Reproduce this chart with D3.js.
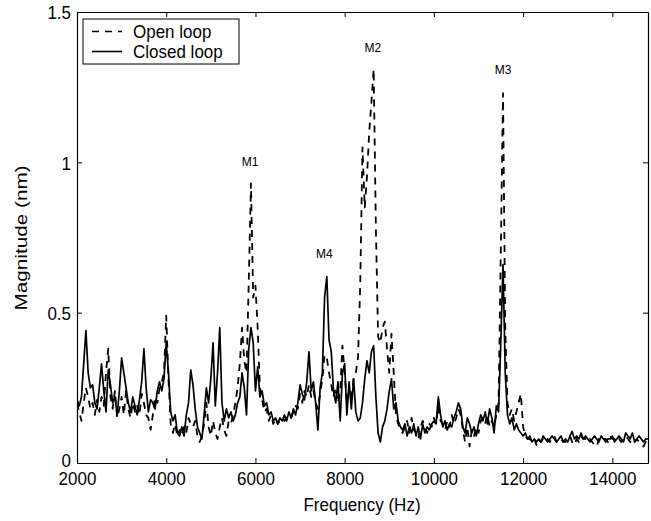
<!DOCTYPE html>
<html><head><meta charset="utf-8">
<script src="https://cdn.jsdelivr.net/npm/d3@7"></script>
<style>
body{margin:0;background:#fff}
svg{display:block}
text{font-family:'Liberation Sans',Arial,Helvetica,sans-serif;fill:#000}
</style>
</head><body>
<svg id="c" width="651" height="521"></svg>
<script>
const freq=[
2000,2050,2100,2150,2200,2250,2300,2350,2400,2450,
2500,2550,2600,2650,2700,2750,2800,2850,2900,2950,
3000,3050,3100,3150,3200,3250,3300,3350,3400,3450,
3500,3550,3600,3650,3700,3750,3800,3850,3900,3950,
4000,4050,4100,4150,4200,4250,4300,4350,4400,4450,
4500,4550,4600,4650,4700,4750,4800,4850,4900,4950,
5000,5050,5100,5150,5200,5250,5300,5350,5400,5450,
5500,5550,5600,5650,5700,5750,5800,5850,5900,5950,
6000,6050,6100,6150,6200,6250,6300,6350,6400,6450,
6500,6550,6600,6650,6700,6750,6800,6850,6900,6950,
7000,7050,7100,7150,7200,7250,7300,7350,7400,7450,
7500,7550,7600,7650,7700,7750,7800,7850,7900,7950,
8000,8050,8100,8150,8200,8250,8300,8350,8400,8450,
8500,8550,8600,8650,8700,8750,8800,8850,8900,8950,
9000,9050,9100,9150,9200,9250,9300,9350,9400,9450,
9500,9550,9600,9650,9700,9750,9800,9850,9900,9950,
10000,10050,10100,10150,10200,10250,10300,10350,10400,10450,
10500,10550,10600,10650,10700,10750,10800,10850,10900,10950,
11000,11050,11100,11150,11200,11250,11300,11350,11400,11450,
11500,11550,11600,11650,11700,11750,11800,11850,11900,11950,
12000,12050,12100,12150,12200,12250,12300,12350,12400,12450,
12500,12550,12600,12650,12700,12750,12800,12850,12900,12950,
13000,13050,13100,13150,13200,13250,13300,13350,13400,13450,
13500,13550,13600,13650,13700,13750,13800,13850,13900,13950,
14000,14050,14100,14150,14200,14250,14300,14350,14400,14450,
14500,14550,14600,14650,14700,14750,14800];

const closedLoop=[
0.21,0.19,0.22,0.33,0.44,0.30,0.25,0.26,0.20,0.18,
0.25,0.33,0.24,0.17,0.31,0.26,0.20,0.22,0.16,0.24,
0.35,0.30,0.25,0.20,0.17,0.22,0.19,0.16,0.21,0.27,
0.38,0.25,0.17,0.21,0.20,0.18,0.24,0.27,0.24,0.28,
0.40,0.30,0.17,0.14,0.16,0.10,0.09,0.12,0.09,0.16,
0.20,0.31,0.26,0.18,0.12,0.10,0.08,0.16,0.25,0.20,
0.28,0.40,0.19,0.30,0.45,0.20,0.14,0.18,0.15,0.17,
0.14,0.16,0.20,0.22,0.30,0.25,0.16,0.38,0.45,0.40,
0.24,0.32,0.22,0.24,0.19,0.20,0.16,0.17,0.14,0.15,
0.13,0.15,0.14,0.16,0.14,0.17,0.15,0.18,0.16,0.20,
0.26,0.23,0.21,0.27,0.37,0.24,0.27,0.20,0.11,0.25,
0.30,0.55,0.62,0.41,0.37,0.24,0.20,0.27,0.14,0.30,
0.33,0.16,0.27,0.18,0.28,0.17,0.14,0.15,0.20,0.28,
0.34,0.30,0.37,0.39,0.22,0.10,0.07,0.12,0.14,0.18,
0.24,0.28,0.18,0.20,0.14,0.12,0.11,0.13,0.09,0.12,
0.10,0.13,0.09,0.12,0.08,0.13,0.10,0.12,0.11,0.13,
0.14,0.13,0.22,0.16,0.12,0.14,0.11,0.13,0.12,0.15,
0.17,0.20,0.18,0.12,0.10,0.15,0.13,0.10,0.12,0.09,
0.13,0.16,0.14,0.17,0.13,0.18,0.15,0.10,0.19,0.17,
0.40,0.66,0.30,0.16,0.13,0.15,0.11,0.13,0.11,0.10,
0.09,0.10,0.08,0.09,0.07,0.08,0.07,0.08,0.07,0.09,
0.08,0.07,0.08,0.09,0.08,0.07,0.08,0.09,0.07,0.08,
0.07,0.09,0.105,0.08,0.09,0.08,0.10,0.08,0.09,0.08,
0.07,0.08,0.09,0.08,0.07,0.09,0.08,0.07,0.08,0.08,
0.09,0.07,0.08,0.09,0.08,0.07,0.10,0.09,0.08,0.10,
0.07,0.08,0.09,0.08,0.07,0.08,0.08];

const openLoop=[
0.20,0.17,0.14,0.20,0.25,0.22,0.18,0.20,0.16,0.21,
0.17,0.22,0.19,0.30,0.38,0.22,0.18,0.24,0.15,0.18,
0.22,0.16,0.24,0.18,0.15,0.20,0.17,0.19,0.16,0.23,
0.20,0.16,0.15,0.11,0.16,0.22,0.20,0.25,0.27,0.30,
0.49,0.28,0.13,0.10,0.13,0.09,0.11,0.09,0.12,0.10,
0.15,0.13,0.12,0.14,0.09,0.07,0.09,0.13,0.20,0.12,
0.09,0.14,0.10,0.08,0.12,0.15,0.11,0.09,0.14,0.13,
0.16,0.20,0.25,0.33,0.45,0.34,0.30,0.60,0.93,0.55,
0.59,0.45,0.25,0.21,0.17,0.18,0.14,0.16,0.13,0.15,
0.13,0.14,0.15,0.14,0.15,0.16,0.15,0.17,0.19,0.18,
0.23,0.20,0.24,0.22,0.26,0.22,0.24,0.20,0.18,0.23,
0.28,0.36,0.35,0.30,0.26,0.22,0.25,0.20,0.24,0.39,
0.30,0.20,0.24,0.22,0.28,0.30,0.35,0.60,1.05,0.85,
0.95,1.10,1.20,1.31,0.78,0.42,0.40,0.45,0.47,0.38,
0.30,0.43,0.30,0.16,0.13,0.11,0.10,0.12,0.14,0.10,
0.15,0.11,0.10,0.08,0.12,0.14,0.12,0.10,0.13,0.12,
0.15,0.13,0.19,0.14,0.13,0.11,0.14,0.12,0.16,0.13,
0.15,0.18,0.16,0.11,0.07,0.12,0.055,0.11,0.09,0.12,
0.10,0.14,0.15,0.13,0.16,0.12,0.14,0.12,0.16,0.20,
0.70,1.23,0.45,0.20,0.16,0.18,0.14,0.17,0.20,0.23,
0.12,0.09,0.08,0.08,0.07,0.08,0.06,0.08,0.07,0.08,
0.07,0.08,0.07,0.08,0.09,0.07,0.08,0.08,0.07,0.07,
0.08,0.09,0.07,0.06,0.08,0.07,0.09,0.08,0.08,0.07,
0.08,0.07,0.06,0.055,0.08,0.07,0.08,0.08,0.07,0.09,
0.08,0.08,0.07,0.08,0.07,0.08,0.09,0.08,0.07,0.08,
0.07,0.08,0.07,0.06,0.055,0.07,0.07];

const xTicks=[2000,4000,6000,8000,10000,12000,14000];
const yTicks=[0,0.5,1,1.5];
const yTickLabels=['0','0.5','1','1.5'];
const seriesNames=['Open loop','Closed loop'];
const modeNames=['M1','M2','M3','M4'];
const modeFreqs=[5878,8631,11550,7544];
const modeMags=[0.988,1.366,1.293,0.682];
const xTitle='Frequency (Hz)';
const yTitle='Magnitude (nm)';

const S=1.1;       // vertical stretch of the scanned lettering
const FS=17;
const svg=d3.select('#c');
const x=d3.scaleLinear().domain([2000,14800]).range([77,648]);
const y=d3.scaleLinear().domain([0,1.5]).range([463,12]);

svg.append('rect').attr('width',651).attr('height',521).attr('fill','#fff');

svg.append('clipPath').attr('id','clip').append('rect')
  .attr('x',x.range()[0]).attr('y',y.range()[1])
  .attr('width',x.range()[1]-x.range()[0]).attr('height',y.range()[0]-y.range()[1]);

function styleAxis(g){
  g.attr('font-size',null).attr('font-family',null);
  g.selectAll('path.domain').attr('stroke','#000').attr('stroke-width',1.2);
  g.selectAll('.tick line').attr('stroke','#000').attr('stroke-width',1);
}

const gb=svg.append('g').attr('transform',`translate(0,${y(0)})`)
  .call(d3.axisBottom(x).tickValues(xTicks).tickFormat(d3.format('d')).tickSizeInner(-5).tickSizeOuter(0));
styleAxis(gb);
gb.selectAll('text').attr('y',0).attr('dy',null).style('font-size',FS+'px')
  .attr('transform',`translate(0,${8.5+FS*0.716*S}) scale(1,${S})`);

const gt=svg.append('g').attr('transform',`translate(0,${y(1.5)})`)
  .call(d3.axisTop(x).tickValues(xTicks).tickFormat('').tickSizeInner(-5).tickSizeOuter(0));
styleAxis(gt);

const gl=svg.append('g').attr('transform',`translate(${x(2000)},0)`)
  .call(d3.axisLeft(y).tickValues(yTicks).tickFormat((d,i)=>yTickLabels[i]).tickSizeInner(-5).tickSizeOuter(0));
styleAxis(gl);
gl.selectAll('text').attr('x',0).attr('dy',null).style('font-size',FS+'px')
  .attr('transform',(d)=>`translate(-6,${FS*0.716*S/2 - (d===0?3.5:0)}) scale(1,${S})`);

const gr=svg.append('g').attr('transform',`translate(${x(14800)},0)`)
  .call(d3.axisRight(y).tickValues(yTicks).tickFormat('').tickSizeInner(-5).tickSizeOuter(0));
styleAxis(gr);

const pts=freq.map((f,i)=>({f,o:openLoop[i],c:closedLoop[i]}));
const plot=svg.append('g').attr('clip-path','url(#clip)');
plot.append('path').datum(pts)
  .attr('d',d3.line().x(d=>x(d.f)).y(d=>y(d.o)))
  .attr('fill','none').attr('stroke','#000').attr('stroke-width',1.8)
  .attr('stroke-dasharray','7,6').attr('stroke-linejoin','round');
plot.append('path').datum(pts)
  .attr('d',d3.line().x(d=>x(d.f)).y(d=>y(d.c)))
  .attr('fill','none').attr('stroke','#000').attr('stroke-width',1.7)
  .attr('stroke-linejoin','round');

// mode labels
modeNames.forEach((n,i)=>{
  svg.append('text').attr('text-anchor','middle')
    .attr('transform',`translate(${x(modeFreqs[i])},${y(modeMags[i])}) scale(1,${S})`)
    .style('font-size','12px').text(n);
});

// legend
const lg=svg.append('g');
lg.append('rect').attr('x',83).attr('y',19).attr('width',156).attr('height',45)
  .attr('fill','#fff').attr('stroke','#000').attr('stroke-width',1);
const rowsY=[31.5,51.5];
seriesNames.forEach((n,i)=>{
  lg.append('line').attr('x1',92).attr('x2',122).attr('y1',rowsY[i]).attr('y2',rowsY[i])
    .attr('stroke','#000').attr('stroke-width',1.6)
    .attr('stroke-dasharray',i===0?'7,6':null);
  lg.append('text').attr('transform',`translate(133,${rowsY[i]+FS*0.716*S/2}) scale(1,${S})`)
    .style('font-size',FS+'px').text(n);
});

// axis titles
svg.append('text').attr('text-anchor','middle')
  .attr('transform',`translate(362,511) scale(1,${S})`).style('font-size',FS+'px').text(xTitle);
svg.append('text').attr('text-anchor','middle')
  .attr('transform',`translate(27,238) rotate(-90) scale(1.22,1)`).style('font-size',FS+'px').text(yTitle);
</script>
</body></html>
